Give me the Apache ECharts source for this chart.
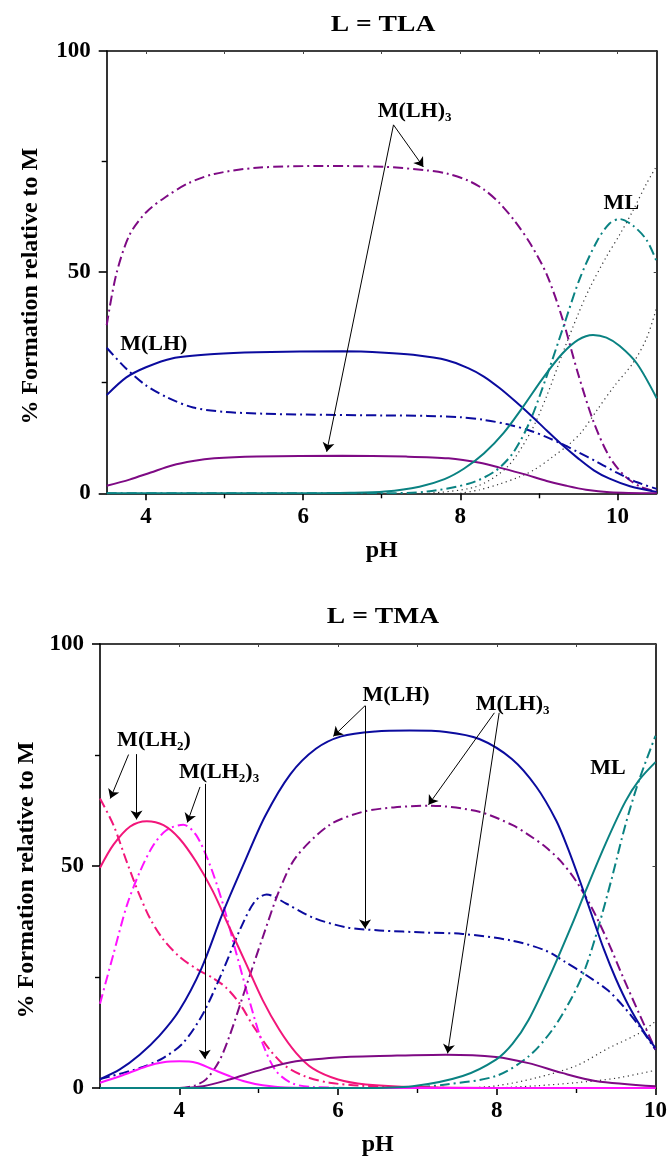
<!DOCTYPE html>
<html>
<head>
<meta charset="utf-8">
<script src="https://cdn.jsdelivr.net/npm/echarts@6/dist/echarts.min.js"></script>
<style>html,body{margin:0;padding:0;background:#fff}#c{width:670px;height:1158px}</style>
</head>
<body>
<div id="c"></div>
<script>
// ---------- DATA: [pH, % formation] ----------
// L = TLA (top panel)
const tlaMLH_solid = [[3.5,22.2],[3.75,26.2],[4.0,28.5],[4.33,30.5],[4.87,31.5],[5.41,31.9],[6.5,32.1],[7.04,31.8],[7.4,31.3],[7.83,30.1],[8.1,28.3],[8.3,26.4],[8.5,23.8],[8.7,20.8],[8.9,17.6],[9.1,14.2],[9.3,10.9],[9.5,7.9],[9.7,5.2],[9.9,3.3],[10.16,1.6],[10.5,0.3]];
const tlaMLH_dash  = [[3.5,32.9],[3.73,28.5],[4.0,24.4],[4.28,21.6],[4.6,19.4],[5.0,18.4],[5.5,18.0],[6.0,17.8],[7.04,17.6],[7.58,17.5],[8.0,17.2],[8.3,16.6],[8.6,15.6],[8.9,14.1],[9.1,12.7],[9.3,11.1],[9.5,9.3],[9.75,7.0],[10.0,4.6],[10.25,2.5],[10.5,1.0]];
const tlaML3_dash  = [[3.5,38],[3.62,49.4],[3.79,58.4],[4.0,63.5],[4.25,67],[4.55,70.2],[4.87,72.2],[5.41,73.6],[6.28,74],[7.04,73.8],[7.58,73],[7.83,72.3],[8.1,70.7],[8.3,68.7],[8.5,65.6],[8.7,61.4],[8.9,56.2],[9.1,49.5],[9.3,39.5],[9.5,27],[9.7,16],[9.9,8.2],[10.1,3.8],[10.3,1.4],[10.5,0.4]];
const tlaML3_solid = [[3.5,1.7],[3.79,3.1],[4.06,4.7],[4.33,6.3],[4.6,7.3],[4.87,7.9],[5.41,8.3],[6.5,8.5],[7.31,8.3],[7.85,7.9],[8.25,6.9],[8.5,5.8],[8.8,4.4],[9.1,2.8],[9.35,1.7],[9.6,0.8],[9.9,0.25],[10.5,0]];
const tlaML_solid  = [[3.5,0],[6.0,0],[6.6,0.1],[7.04,0.4],[7.48,1.5],[7.8,3.2],[8.05,5.6],[8.3,9],[8.55,13.6],[8.8,19.6],[9.05,26],[9.3,31.6],[9.5,34.7],[9.69,35.8],[9.86,35.2],[10.03,33.3],[10.25,29.3],[10.5,21.5]];
const tlaML_dash   = [[3.5,0],[7.0,0],[7.58,0.4],[8.13,2.3],[8.45,5.1],[8.67,9.1],[8.88,16],[9.1,26.5],[9.31,37.5],[9.52,48.5],[9.74,57],[9.9,61],[10.03,62],[10.2,60.5],[10.37,57.3],[10.5,52.4]];
const tlaDot1      = [[7.6,0],[8.2,1.5],[8.6,6],[8.9,14],[9.1,22],[9.31,32],[9.5,40.5],[9.65,46.5],[9.86,53.5],[10.03,58.5],[10.2,64],[10.37,70],[10.5,74]];
const tlaDot2      = [[8.0,0],[8.25,0.8],[8.5,2.1],[8.75,3.7],[8.95,5.4],[9.18,8.3],[9.4,11.3],[9.55,14],[9.74,18.8],[9.95,24],[10.2,29.5],[10.37,35],[10.5,42]];

// L = TMA (bottom panel)
const tmaMLH2_solid  = [[3.0,49.6],[3.17,54.8],[3.38,58.9],[3.59,60.1],[3.8,59.2],[4.0,56.2],[4.21,51],[4.42,44.4],[4.63,36.2],[4.84,28],[5.05,19.8],[5.26,13.1],[5.47,7.9],[5.68,4.4],[6.0,1.9],[6.35,0.8],[7.0,0.2],[8.0,0],[10,0]];
const tmaMLH2_dash   = [[3.0,65.2],[3.17,59.2],[3.34,50.8],[3.49,43.8],[3.63,38.2],[3.8,33.4],[4.0,29.6],[4.21,26.9],[4.42,24.8],[4.59,22.6],[4.76,19],[4.93,14],[5.14,8.6],[5.34,4.9],[5.6,2.5],[5.89,1.2],[6.3,0.5],[7.0,0.1],[8.0,0],[10,0]];
const tmaMLH23_dash  = [[3.0,19],[3.17,30.2],[3.34,41.2],[3.5,48.6],[3.67,54.6],[3.84,58.1],[4.05,59.3],[4.21,57],[4.38,50.5],[4.55,41.4],[4.72,30.2],[4.89,19.2],[5.05,10],[5.22,3.8],[5.43,1],[5.7,0.2],[6.5,0],[10,0]];
const tmaMLH23_solid = [[3.0,1.2],[3.26,2.7],[3.59,4.9],[3.8,5.8],[4.0,6.0],[4.21,5.7],[4.42,4.2],[4.63,2.7],[4.84,1.4],[5.05,0.6],[5.34,0.1],[6.0,0],[10,0]];
const tmaMLH_solid   = [[3.0,2],[3.25,4.2],[3.5,7.5],[3.75,11.8],[4.0,17.5],[4.28,27],[4.54,39.1],[4.81,50.4],[5.08,61.2],[5.4,70.7],[5.72,76.4],[6.04,79.2],[6.47,80.3],[6.9,80.5],[7.36,80.2],[7.78,78.6],[8.19,74.1],[8.5,67.8],[8.75,60.2],[8.9,53.8],[9.05,46.5],[9.2,38.8],[9.35,31.2],[9.5,24.6],[9.66,18.6],[9.85,12.8],[10,9]];
const tmaMLH_dash    = [[3.0,2],[3.5,4.5],[3.8,6.8],[4.05,10.2],[4.3,16.8],[4.55,26.5],[4.76,35.5],[4.95,42],[5.1,43.6],[5.35,41.5],[5.68,38.4],[6.1,36.2],[6.52,35.5],[7.12,35],[7.57,34.7],[8.19,33.2],[8.61,31],[8.87,28.3],[9.12,25.5],[9.4,22],[9.6,18.3],[9.8,13.8],[10,8.6]];
const tmaML3_dash    = [[3.0,0],[4.0,0],[4.2,0.6],[4.34,2],[4.5,6],[4.63,11.6],[4.84,22.8],[5.05,33.9],[5.26,44.5],[5.47,52],[5.89,59.2],[6.31,62.2],[6.7,63.2],[7.15,63.6],[7.78,62.2],[8.2,59.2],[8.4,57],[8.6,54.5],[8.8,51.2],[9.0,46.6],[9.2,40.5],[9.4,33],[9.6,24.6],[9.8,16.5],[10,8.6]];
const tmaML3_solid   = [[3.0,0],[4.0,0],[4.3,0.4],[4.63,1.9],[5.05,4.2],[5.47,6],[6.1,7],[6.52,7.2],[7.36,7.5],[7.99,7],[8.4,5.6],[8.82,3.4],[9.24,1.6],[10,0.4]];
const tmaML_solid    = [[3.0,0],[6.3,0],[6.94,0.4],[7.57,2.7],[7.99,6.4],[8.2,10],[8.4,15.3],[8.7,26.5],[8.95,36.9],[9.12,44.4],[9.37,55],[9.62,64.5],[9.8,69.5],[10,73.4]];
const tmaML_dash     = [[3.0,0],[6.8,0],[7.36,0.8],[7.99,2.7],[8.4,7.1],[8.7,13.1],[8.95,20.5],[9.12,27.2],[9.28,36.2],[9.45,47.3],[9.62,59.2],[9.79,69.2],[10,79.3]];
const tmaDot1        = [[7.6,0],[8.0,0.5],[8.5,2.3],[9.0,5],[9.41,9],[9.79,12.3],[10,15]];
const tmaDot2        = [[8.0,0],[8.5,0.5],[9.0,1.2],[9.5,2.2],[10,4]];

// tick labels
const tickPH = [4, 6, 8, 10];
const minorPH = [5, 7, 9];
const titles = ['L = TLA', 'L = TMA'];

// ---------- STYLE ----------
const FONT = "'Liberation Serif','Times New Roman',serif";
const C = {navy:'#0b0b9e', purple:'#7e0a84', teal:'#0a8282', pink:'#f2167a', magenta:'#ff12ff', dot:'#333333'};
const DASH = [10,4,2,4];

function ser(data, color, kind, gi, extra) {
  const ls = {color: color, width: 2, type: 'solid'};
  if (kind === 'dash') ls.type = DASH;
  if (kind === 'dot') { ls.type = [1.2,3.5]; ls.width = 1.2; }
  return Object.assign({
    type: 'line', data: data, xAxisIndex: gi*3, yAxisIndex: gi*2,
    showSymbol: false, symbol: 'none', smooth: 0.3, lineStyle: ls,
    silent: true, z: kind === 'dot' ? 1 : 2
  }, extra || {});
}

const labelRich = {
  m: {fontFamily: FONT, fontWeight: 'bold', fontSize: 22, color: '#000', lineHeight: 26, verticalAlign: 'middle'},
  s: {fontFamily: FONT, fontWeight: 'bold', fontSize: 13, color: '#000', lineHeight: 12, verticalAlign: 'bottom'}
};
function note(coord, text) {
  return {coord: coord, symbol: 'circle', symbolSize: 1, itemStyle: {color: 'rgba(0,0,0,0)'},
    label: {show: true, position: 'inside', formatter: text, rich: labelRich}};
}
function arrow(a, b) { return [{coord: a}, {coord: b}]; }
const arrowMark = (data) => ({silent: true, symbol: ['none','arrow'], symbolSize: 9,
  lineStyle: {color: '#000', width: 1, type: 'solid'}, label: {show: false}, data: data, animation: false});

function axesFor(gi, min, max) {
  const axisLine = {show: true, lineStyle: {color: '#000', width: 1.6}};
  const xs = [
    {gridIndex: gi, type: 'value', min: min, max: max, position: 'bottom', axisLine: axisLine,
     axisTick: {show: true, inside: false, length: 7, customValues: tickPH, lineStyle: {width: 1.6, color: '#000'}},
     axisLabel: {show: true, customValues: tickPH, margin: 12, fontFamily: FONT, fontWeight: 'bold', fontSize: 23, color: '#000'},
     splitLine: {show: false}, name: 'pH', nameLocation: 'middle', nameGap: 45,
     nameTextStyle: {fontFamily: FONT, fontWeight: 'bold', fontSize: 24, color: '#000'}},
    {gridIndex: gi, type: 'value', min: min, max: max, position: 'bottom', axisLine: {show: false},
     axisTick: {show: true, inside: false, length: 5, customValues: minorPH, lineStyle: {width: 1.4, color: '#000'}},
     axisLabel: {show: false}, splitLine: {show: false}},
    {gridIndex: gi, type: 'value', min: min, max: max, position: 'top', axisLine: axisLine,
     axisTick: {show: true, inside: true, length: 3, customValues: tickPH.concat(minorPH), lineStyle: {width: 1, color: '#444'}},
     axisLabel: {show: false}, splitLine: {show: false}}
  ];
  const ys = [
    {gridIndex: gi, type: 'value', min: 0, max: 100, interval: 50, position: 'left', axisLine: axisLine,
     axisTick: {show: true, inside: false, length: 8, lineStyle: {width: 1.6, color: '#000'}},
     minorTick: {show: true, splitNumber: 2, length: 5, lineStyle: {width: 1.4, color: '#000'}},
     axisLabel: {margin: 16, fontFamily: FONT, fontWeight: 'bold', fontSize: 23, color: '#000'},
     splitLine: {show: false}, minorSplitLine: {show: false},
     name: '% Formation relative to M', nameLocation: 'middle', nameGap: gi === 0 ? 64 : 57,
     nameTextStyle: {fontFamily: FONT, fontWeight: 'bold', fontSize: 24, color: '#000', padding: [0, 28, 0, 0]}},
    {gridIndex: gi, type: 'value', min: 0, max: 100, interval: 50, position: 'right', axisLine: axisLine,
     axisTick: {show: true, inside: true, length: 3, lineStyle: {width: 1, color: '#444'}},
     axisLabel: {show: false}, splitLine: {show: false}}
  ];
  return {xs, ys};
}
const A0 = axesFor(0, 3.5, 10.5);
const A1 = axesFor(1, 3.0, 10.0);

const series = [
  // top panel
  ser(tlaDot1, C.dot, 'dot', 0),
  ser(tlaDot2, C.dot, 'dot', 0),
  ser(tlaML3_dash, C.purple, 'dash', 0, {
    markLine: arrowMark([arrow([7.15,83.3],[7.53,73.8]), arrow([7.15,83.3],[6.3,9.4])]),
    markPoint: {silent: true, animation: false, data: [
      note([7.42,86.3], '{m|M(LH)}{s|3}'),
      note([4.1,33.6], '{m|M(LH)}'),
      note([10.05,65.6], '{m|ML}')
    ]}
  }),
  ser(tlaMLH_dash, C.navy, 'dash', 0),
  ser(tlaML_dash, C.teal, 'dash', 0),
  ser(tlaMLH_solid, C.navy, 'solid', 0),
  ser(tlaML3_solid, C.purple, 'solid', 0),
  ser(tlaML_solid, C.teal, 'solid', 0),
  // bottom panel
  ser(tmaDot1, C.dot, 'dot', 1),
  ser(tmaDot2, C.dot, 'dot', 1),
  ser(tmaMLH2_dash, C.pink, 'dash', 1),
  ser(tmaMLH23_dash, C.magenta, 'dash', 1),
  ser(tmaMLH_dash, C.navy, 'dash', 1),
  ser(tmaML3_dash, C.purple, 'dash', 1, {
    markLine: arrowMark([
      arrow([6.34,86.1],[5.94,79.2]), arrow([6.34,86.1],[6.34,35.9]),
      arrow([7.97,84.5],[7.14,63.8]), arrow([8.03,84.5],[7.38,7.8]),
      arrow([3.36,75.1],[3.13,65.2]), arrow([3.46,75.2],[3.46,60.5]),
      arrow([4.26,67.8],[4.1,59.8]), arrow([4.32,68.5],[4.32,6.6])
    ]),
    markPoint: {silent: true, animation: false, data: [
      note([6.73,88.4], '{m|M(LH)}'),
      note([8.2,86.5], '{m|M(LH)}{s|3}'),
      note([3.68,78.4], '{m|M(LH}{s|2}{m|)}'),
      note([4.5,71.1], '{m|M(LH}{s|2}{m|)}{s|3}'),
      note([9.4,71.9], '{m|ML}')
    ]}
  }),
  ser(tmaML_dash, C.teal, 'dash', 1),
  ser(tmaMLH2_solid, C.pink, 'solid', 1),
  ser(tmaMLH23_solid, C.magenta, 'solid', 1),
  ser(tmaMLH_solid, C.navy, 'solid', 1),
  ser(tmaML3_solid, C.purple, 'solid', 1),
  ser(tmaML_solid, C.teal, 'solid', 1)
];

const chart = echarts.init(document.getElementById('c'), null, {renderer: 'canvas'});
chart.setOption({
  animation: false,
  backgroundColor: '#fff',
  grid: [
    {left: 106.7, top: 51, width: 550, height: 442.3, containLabel: false},
    {left: 100, top: 644, width: 557, height: 448, containLabel: false}
  ],
  xAxis: A0.xs.concat(A1.xs),
  yAxis: A0.ys.concat(A1.ys),
  graphic: [
    {type: 'text', x: 383, y: 25, scaleX: 1.2, style: {text: titles[0], font: "bold 23px " + FONT, fill: '#000', align: 'center', verticalAlign: 'middle'}},
    {type: 'text', x: 383, y: 617, scaleX: 1.2, style: {text: titles[1], font: "bold 23px " + FONT, fill: '#000', align: 'center', verticalAlign: 'middle'}}
  ],
  series: series
});
</script>
</body>
</html>
